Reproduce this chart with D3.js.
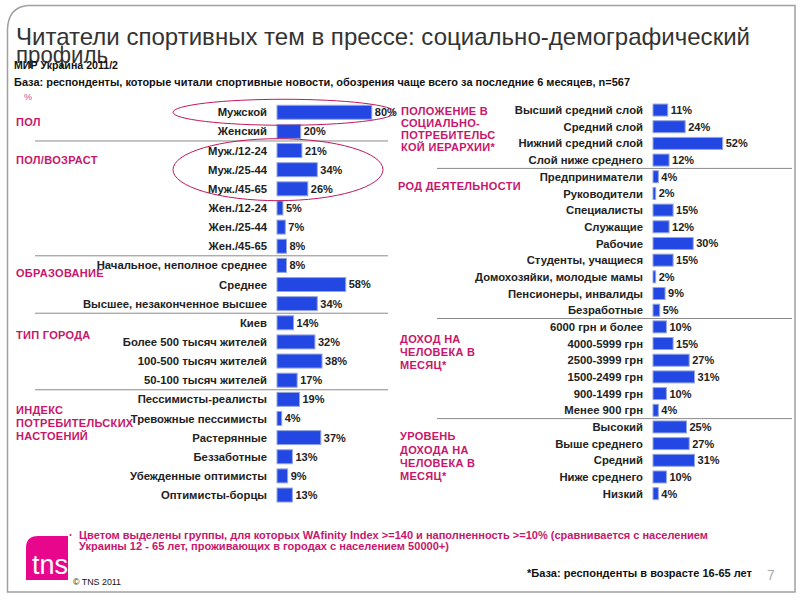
<!DOCTYPE html>
<html><head><meta charset="utf-8">
<script src="https://cdn.jsdelivr.net/npm/d3@7"></script>
<style>
body{margin:0;background:#fff}
svg{display:block}
text{font-family:"Liberation Sans",Arial,Helvetica,sans-serif}
</style>
</head><body>
<svg id="chart" width="800" height="600"></svg>
<script>
// ---------- DATA ----------
const leftCategories = ["Мужской","Женский","Муж./12-24","Муж./25-44","Муж./45-65","Жен./12-24","Жен./25-44","Жен./45-65",
  "Начальное, неполное среднее","Среднее","Высшее, незаконченное высшее",
  "Киев","Более 500 тысяч жителей","100-500 тысяч жителей","50-100 тысяч жителей",
  "Пессимисты-реалисты","Тревожные пессимисты","Растерянные","Беззаботные","Убежденные оптимисты","Оптимисты-борцы"];
const leftValues = [80,20,21,34,26,5,7,8, 8,58,34, 14,32,38,17, 19,4,37,13,9,13];
const leftGroupNames = [["ПОЛ"],["ПОЛ/ВОЗРАСТ"],["ОБРАЗОВАНИЕ"],["ТИП ГОРОДА"],["ИНДЕКС","ПОТРЕБИТЕЛЬСКИХ","НАСТОЕНИЙ"]];
const leftGroupSizes = [2,6,3,4,6];

const rightCategories = ["Высший средний слой","Средний слой","Нижний средний слой","Слой ниже среднего",
  "Предприниматели","Руководители","Специалисты","Служащие","Рабочие","Студенты, учащиеся","Домохозяйки, молодые мамы","Пенсионеры, инвалиды","Безработные",
  "6000 грн и более","4000-5999 грн","2500-3999 грн","1500-2499 грн","900-1499 грн","Менее 900 грн",
  "Высокий","Выше среднего","Средний","Ниже среднего","Низкий"];
const rightValues = [11,24,52,12, 4,2,15,12,30,15,2,9,5, 10,15,27,31,10,4, 25,27,31,10,4];
const rightGroupNames = [["ПОЛОЖЕНИЕ В","СОЦИАЛЬНО-","ПОТРЕБИТЕЛЬС","КОЙ ИЕРАРХИИ*"],["РОД ДЕЯТЕЛЬНОСТИ"],["ДОХОД НА","ЧЕЛОВЕКА В","МЕСЯЦ*"],["УРОВЕНЬ","ДОХОДА НА","ЧЕЛОВЕКА В","МЕСЯЦ*"]];
const rightGroupSizes = [4,9,6,5];

const titleLine1 = "Читатели спортивных тем в прессе: социально-демографический";
const titleLine2 = "профиль";
const sourceText = "МИР Украина 2011/2";
const baseText = "База: респонденты, которые читали спортивные новости, обозрения чаще всего за последние 6 месяцев, n=567";
const noteLine1 = "Цветом выделены группы, для которых WAfinity Index >=140 и наполненность >=10% (сравнивается с населением";
const noteLine2 = "Украины 12 - 65 лет, проживающих в городах с населением 50000+)";
const footBase = "*База: респонденты в возрасте 16-65 лет";
const copyright = "© TNS 2011";
const pageNum = "7";

// ---------- STYLE / LAYOUT ----------
const MAG = "#c8166c", BAR = "#2347e2", BARSTROKE = "#95a6de", TXT = "#222";
const svg = d3.select("#chart");

// frame
svg.append("path")
  .attr("d","M7.5,592 L7.5,29 Q8.5,7 28,5.5 L795,5.5 L795,592 Z")
  .attr("fill","none").attr("stroke","#a0a0a0").attr("stroke-width",1.5);

// title
svg.append("text").attr("x",16).attr("y",45).attr("font-size",24).attr("fill","#333")
  .attr("textLength",734).attr("lengthAdjust","spacingAndGlyphs").text(titleLine1);
svg.append("text").attr("x",16).attr("y",63).attr("font-size",24).attr("fill","#333")
  .attr("textLength",92).attr("lengthAdjust","spacingAndGlyphs").text(titleLine2);
svg.append("text").attr("x",14).attr("y",69).attr("font-size",11).attr("font-weight","bold").attr("fill","#111")
  .attr("textLength",104).attr("lengthAdjust","spacingAndGlyphs").text(sourceText);
svg.append("text").attr("x",14).attr("y",85.5).attr("font-size",11).attr("font-weight","bold").attr("fill","#111")
  .attr("textLength",616).attr("lengthAdjust","spacingAndGlyphs").text(baseText);
svg.append("text").attr("x",24).attr("y",100).attr("font-size",9).attr("fill","#c05090").text("%");

function panel(cfg){
  const n = cfg.cats.length;
  const y = d3.scaleBand().domain(d3.range(n)).range(cfg.yRange).paddingInner(0).paddingOuter(0);
  const x = d3.scaleLinear().domain([0,100]).range([cfg.x0, cfg.x0 + cfg.pxPer100]);
  const cy = i => y(i) + y.bandwidth()/2;
  const g = svg.append("g");

  let idx = 0;
  const starts = [];
  cfg.sizes.forEach(s=>{ starts.push(idx); idx += s; });
  starts.slice(1).forEach(st=>{
    const yy = (cy(st-1)+cy(st))/2;
    g.append("line").attr("x1",cfg.sepX[0]).attr("x2",cfg.sepX[1]).attr("y1",yy).attr("y2",yy)
      .attr("stroke","#8a8a8a").attr("stroke-width",1);
  });

  g.selectAll("rect.bar").data(cfg.vals).enter().append("rect")
    .attr("x",x(0)).attr("y",(d,i)=>cy(i)-cfg.barH/2)
    .attr("width",d=>x(d)-x(0)).attr("height",cfg.barH)
    .attr("fill",BAR).attr("stroke",BARSTROKE).attr("stroke-width",1);

  g.selectAll("text.cat").data(cfg.cats).enter().append("text")
    .attr("x",cfg.labelX).attr("y",(d,i)=>cy(i)).attr("dy","0.36em")
    .attr("text-anchor","end").attr("font-size",11.3).attr("font-weight","bold").attr("fill",TXT)
    .text(d=>d);

  g.selectAll("text.val").data(cfg.vals).enter().append("text")
    .attr("x",d=>x(d)+3).attr("y",(d,i)=>cy(i)).attr("dy","0.36em")
    .attr("font-size",11).attr("font-weight","bold").attr("fill",TXT)
    .text(d=>d+"%");

  cfg.groups.forEach((lines,gi)=>{
    const y0 = cy(starts[gi]) + cfg.groupOffsets[gi];
    lines.forEach((ln,li)=>{
      g.append("text").attr("x",cfg.groupX[gi]).attr("y",y0 + li*cfg.groupLine[gi]).attr("dy","0.36em")
        .attr("font-size",11).attr("font-weight","bold").attr("fill",MAG).attr("letter-spacing",0.3)
        .text(ln);
    });
  });
  return {cy};
}

const L = panel({cats:leftCategories, vals:leftValues, groups:leftGroupNames, sizes:leftGroupSizes,
  yRange:[102.7,504.6], x0:277, pxPer100:118.5, barH:14, labelX:267, sepX:[35,388],
  groupX:[16,16,16,16,16], groupOffsets:[9.5,9,8,12,11], groupLine:[0,0,0,0,12.8]});

const R = panel({cats:rightCategories, vals:rightValues, groups:rightGroupNames, sizes:rightGroupSizes,
  yRange:[101.7,502.0], x0:653, pxPer100:134, barH:12, labelX:643, sepX:[437,792],
  groupX:[401,398,400,400], groupOffsets:[0.7,9.3,12.3,9.4], groupLine:[12,0,13,13.3]});

// highlight ellipses
svg.append("ellipse").attr("cx",284).attr("cy",L.cy(0)).attr("rx",111).attr("ry",13)
  .attr("fill","none").attr("stroke","#c2185b").attr("stroke-width",1);
svg.append("ellipse").attr("cx",278).attr("cy",L.cy(3)).attr("rx",105).attr("ry",31)
  .attr("fill","none").attr("stroke","#c2185b").attr("stroke-width",1);

// footer note
svg.append("circle").attr("cx",70.5).attr("cy",535).attr("r",1).attr("fill",MAG);
svg.append("text").attr("x",79).attr("y",539).attr("font-size",11).attr("font-weight","bold").attr("fill",MAG)
  .attr("textLength",629).attr("lengthAdjust","spacingAndGlyphs").text(noteLine1);
svg.append("text").attr("x",79).attr("y",550).attr("font-size",11).attr("font-weight","bold").attr("fill",MAG)
  .attr("textLength",370).attr("lengthAdjust","spacingAndGlyphs").text(noteLine2);
svg.append("text").attr("x",527).attr("y",577).attr("font-size",11).attr("font-weight","bold").attr("fill","#111")
  .attr("textLength",225).attr("lengthAdjust","spacingAndGlyphs").text(footBase);
svg.append("text").attr("x",767).attr("y",580).attr("font-size",14).attr("fill","#aaa").text(pageNum);
svg.append("text").attr("x",73).attr("y",585).attr("font-size",9.5).attr("fill","#111")
  .attr("textLength",48).attr("lengthAdjust","spacingAndGlyphs").text(copyright);

// TNS logo
const defs = svg.append("defs");
const logoPath = "M26,548 Q26,536 38,536 L68,536 L68,580 L26,580 Z";
defs.append("clipPath").attr("id","logoClip").append("path").attr("d",logoPath);
svg.append("path").attr("d",logoPath).attr("fill","#e8078c");
svg.append("text").attr("x",32).attr("y",574).attr("font-size",27).attr("fill","#fff")
  .attr("clip-path","url(#logoClip)").text("tns");
</script>
</body></html>
